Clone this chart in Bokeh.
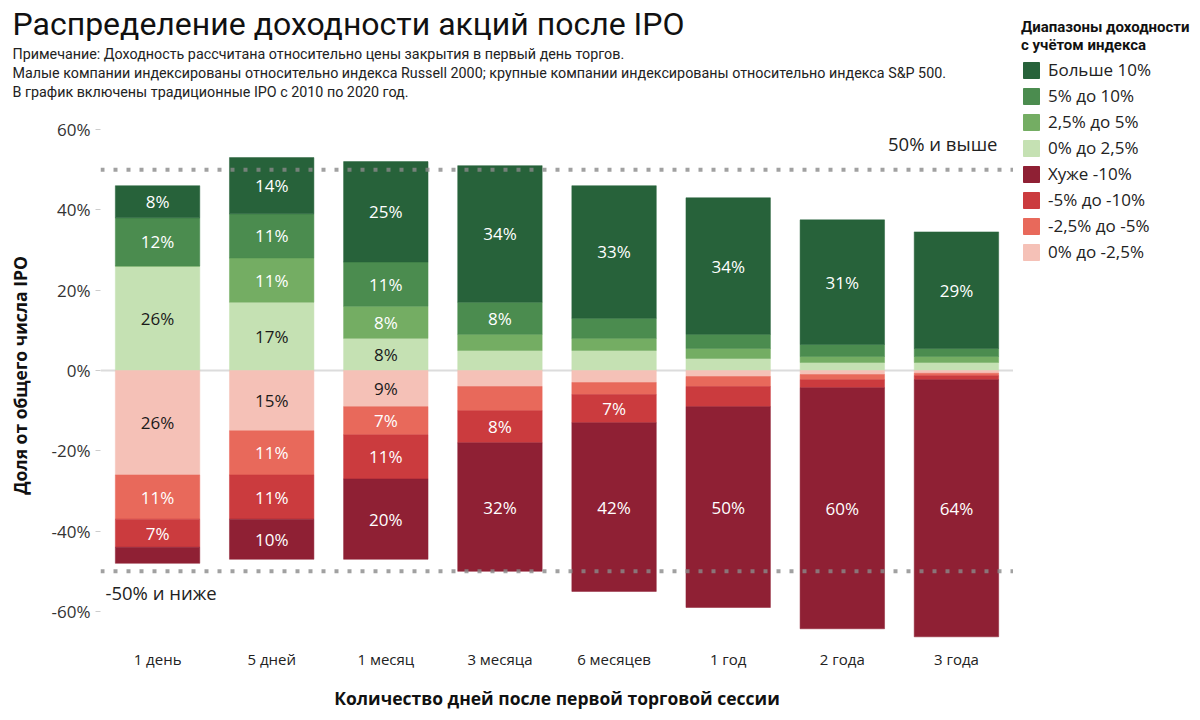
import math
from bokeh.plotting import figure
from bokeh.layouts import row, column
from bokeh.models import ColumnDataSource, Label, Span, FixedTicker, Legend, LegendItem, Title
from bokeh.core.properties import value
from bokeh.embed import file_html
from bokeh.resources import INLINE

# Holding periods after the first trading session
periods = ["1 день", "5 дней", "1 месяц", "3 месяца", "6 месяцев", "1 год", "2 года", "3 года"]

# Share of IPOs (%) in each index-adjusted return bucket
gt10 = [8, 14, 25, 34, 33, 34, 31, 29]          # Больше 10%
p5_10 = [12, 11, 11, 8, 5, 3.5, 3, 2]           # 5% до 10%
p2_5 = [0, 11, 8, 4, 3, 2.5, 1.5, 1.5]          # 2,5% до 5%
p0_2 = [26, 17, 8, 5, 5, 3, 2, 2]               # 0% до 2,5%
lt10 = [4, 10, 20, 32, 42, 50, 60, 64]          # Хуже -10%
n5_10 = [7, 11, 11, 8, 7, 5, 2, 1]              # -5% до -10%
n2_5 = [11, 11, 7, 6, 3, 2.5, 1.3, 0.6]         # -2,5% до -5%
n0_2 = [26, 15, 9, 4, 3, 1.5, 1, 0.7]           # 0% до -2,5%

y_ticks = [-60, -40, -20, 0, 20, 40, 60]
thresholds = [50, -50]

title_text = "Распределение доходности акций после IPO"
notes = [
    "Примечание: Доходность рассчитана относительно цены закрытия в первый день торгов.",
    "Малые компании индексированы относительно индекса Russell 2000; крупные компании индексированы относительно индекса S&P 500.",
    "В график включены традиционные IPO с 2010 по 2020 год.",
]
legend_title = "Диапазоны доходности\nс учётом индекса"

C_GT10, C_P5, C_P2, C_P0 = "#27623a", "#4b8c4f", "#74ad63", "#c5e1b3"
C_LT10, C_N5, C_N2, C_N0 = "#8f2034", "#cb3b3e", "#e8695b", "#f5c1b7"

FONT = "Open Sans"
HEAD_FONT = "Roboto"

W, H = 1200, 720
CHART_W = 1013                      # chart figure width; legend column takes the rest
LEG_W = W - CHART_W
FL, FT, FB = 100, 110, 640          # frame left / top / bottom
PX_PER = 4.017
ZERO_Y = 370

y_top = (ZERO_Y - FT) / PX_PER
y_bot = -(FB - ZERO_Y) / PX_PER

p = figure(width=CHART_W, height=H, x_range=periods, y_range=(y_bot, y_top),
           output_backend="svg", toolbar_location=None,
           min_border_left=FL, min_border_right=0,
           min_border_top=FT, min_border_bottom=H - FB)
p.outline_line_color = None
p.xgrid.grid_line_color = None
p.ygrid.grid_line_color = None

# stacked segments: positives upward from zero, negatives downward
pos_series = [(p0_2, C_P0, "0% до 2,5%", "#1a1a1a"),
              (p2_5, C_P2, "2,5% до 5%", "white"),
              (p5_10, C_P5, "5% до 10%", "white"),
              (gt10, C_GT10, "Больше 10%", "white")]
neg_series = [(n0_2, C_N0, "0% до -2,5%", "#1a1a1a"),
              (n2_5, C_N2, "-2,5% до -5%", "white"),
              (n5_10, C_N5, "-5% до -10%", "white"),
              (lt10, C_LT10, "Хуже -10%", "white")]

colors = {}
lab_x, lab_y, lab_t, lab_c = [], [], [], []


def stack(series, sign):
    base = [0.0] * len(periods)
    for vals, color, name, tcol in series:
        bottom = base[:]
        top = [b + sign * v for b, v in zip(base, vals)]
        src = ColumnDataSource(dict(x=periods, bottom=bottom, top=top))
        p.vbar(x="x", bottom="bottom", top="top", width=0.74, source=src,
               fill_color=color, line_color=color, line_width=0.5)
        colors[name] = color
        for cat, b, t, v in zip(periods, bottom, top, vals):
            if v >= 7:
                lab_x.append(cat)
                lab_y.append((b + t) / 2)
                lab_t.append(f"{v:g}%")
                lab_c.append(tcol)
        base = top


stack(pos_series, 1)
stack(neg_series, -1)

p.add_layout(Span(location=0, dimension="width", line_color="#dcdcdc", line_width=2, level="underlay"))
for t in thresholds:
    p.add_layout(Span(location=t, dimension="width", line_color="#8a8a8a", line_alpha=0.8,
                      line_width=4, line_dash="4 9", level="overlay"))

lab_src = ColumnDataSource(dict(x=lab_x, y=lab_y, t=lab_t, c=lab_c))
p.text(x="x", y="y", text="t", source=lab_src, text_color="c",
       text_align="center", text_baseline="middle",
       text_font=value(FONT), text_font_size="17px")

# axes
p.yaxis.ticker = FixedTicker(ticks=y_ticks)
p.yaxis.major_label_overrides = {v: f"{v}%" for v in y_ticks}
p.yaxis.axis_line_color = None
p.yaxis.major_tick_in = 0
p.yaxis.major_tick_out = 5
p.yaxis.major_tick_line_color = "#cccccc"
p.yaxis.minor_tick_line_color = None
p.yaxis.major_label_text_font = FONT
p.yaxis.major_label_text_font_size = "17px"
p.yaxis.major_label_text_color = "#333333"
p.yaxis.major_label_standoff = 5
p.yaxis.axis_label = "Доля от общего числа IPO"
p.yaxis.axis_label_text_font = FONT
p.yaxis.axis_label_text_font_style = "bold"
p.yaxis.axis_label_text_font_size = "17.5px"
p.yaxis.axis_label_text_color = "#111111"
p.yaxis.axis_label_standoff = 17

p.xaxis.axis_line_color = None
p.xaxis.major_tick_line_color = None
p.xaxis.major_label_text_font = FONT
p.xaxis.major_label_text_font_size = "15px"
p.xaxis.major_label_text_color = "#222222"
p.xaxis.major_label_standoff = 2
p.xaxis.axis_label = "Количество дней после первой торговой сессии"
p.xaxis.axis_label_text_font = FONT
p.xaxis.axis_label_text_font_style = "bold"
p.xaxis.axis_label_text_font_size = "17.5px"
p.xaxis.axis_label_text_color = "#111111"
p.xaxis.axis_label_standoff = 14

# threshold captions inside the frame
p.add_layout(Label(x=997 - FL, y=FB - 143, x_units="screen", y_units="screen",
                   text="50% и выше", text_font=FONT, text_font_size="18.5px",
                   text_align="right", text_baseline="middle", text_color="#222222"))
p.add_layout(Label(x=105 - FL, y=FB - 592, x_units="screen", y_units="screen",
                   text="-50% и ниже", text_font=FONT, text_font_size="18.5px",
                   text_align="left", text_baseline="middle", text_color="#222222"))

# heading block above the frame (stacked outward from the frame):
# a thin gap, the three notes, then the main title
p.add_layout(Title(text=" ", text_font_size="1px", standoff=7), "above")
for line in reversed(notes):
    p.add_layout(Title(text=line, align="left", offset=12 - FL, standoff=1,
                       text_font=HEAD_FONT, text_font_size="14.3px",
                       text_font_style="normal", text_color="#222222"), "above")
p.add_layout(Title(text=title_text, align="left", offset=12 - FL, standoff=2,
                   text_font=HEAD_FONT, text_font_size="32px",
                   text_font_style="normal", text_color="#111111"), "above")

# legend column to the right of the chart
leg = figure(width=LEG_W, height=H, x_range=(0, LEG_W), y_range=(0, H),
             x_axis_type=None, y_axis_type=None, output_backend="svg",
             toolbar_location=None, min_border=0)
leg.outline_line_color = None

legend_order = ["Больше 10%", "5% до 10%", "2,5% до 5%", "0% до 2,5%",
                "Хуже -10%", "-5% до -10%", "-2,5% до -5%", "0% до -2,5%"]
items = []
for name in legend_order:
    c = colors[name]
    # swatch-only renderer: one row without a position, so nothing is plotted
    r = leg.vbar(x=[math.nan], top=[math.nan], width=1, fill_color=c, line_color=c)
    items.append(LegendItem(label=name, renderers=[r]))
legend = Legend(items=items, location=(8, H - 263), orientation="vertical",
                title=legend_title, title_text_font=HEAD_FONT, title_text_font_size="15px",
                title_text_font_style="bold", title_text_color="#111111", title_standoff=4,
                glyph_width=20, glyph_height=20, label_height=20, spacing=3,
                padding=0, margin=0, label_standoff=7,
                label_text_font=FONT, label_text_font_size="17px", label_text_color="#222222",
                border_line_color=None, background_fill_alpha=0)
leg.add_layout(legend, "center")

layout = row(p, column(leg))
open("out.html", "w").write(file_html(layout, INLINE))
